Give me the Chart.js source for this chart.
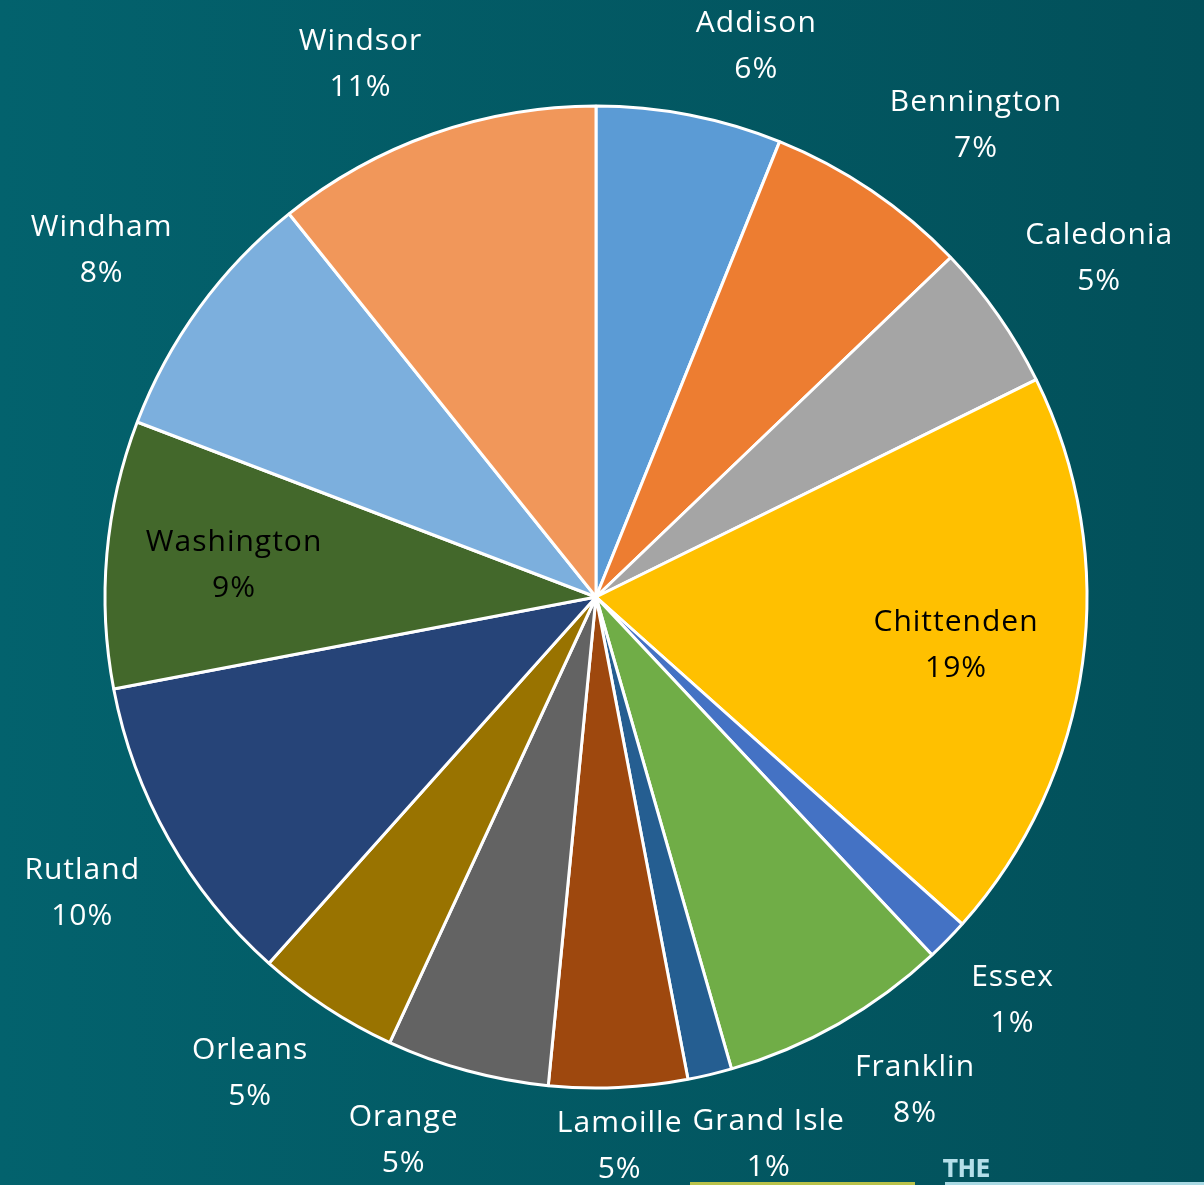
<!DOCTYPE html>
<html>
<head>
<meta charset="utf-8">
<script src="https://cdn.jsdelivr.net/npm/chart.js@4.4.1/dist/chart.umd.min.js"></script>
<style>
  html, body { margin: 0; padding: 0; overflow: hidden; background: #02595f; }
  #wrap { width: 1204px; height: 1185px; }
</style>
</head>
<body>
<div id="wrap"><canvas id="c" width="1204" height="1185"></canvas></div>
<script>
// ---- data ----
const counties = ['Addison', 'Bennington', 'Caledonia', 'Chittenden', 'Essex', 'Franklin',
  'Grand Isle', 'Lamoille', 'Orange', 'Orleans', 'Rutland', 'Washington', 'Windham', 'Windsor'];
const shares = [6.1, 6.75, 4.85, 18.9, 1.4, 7.55, 1.45, 4.55, 5.35, 4.7, 10.4, 8.8, 8.45, 10.75];
const sliceColors = ['#5B9BD5', '#ED7D31', '#A5A5A5', '#FFC000', '#4472C4', '#70AD47',
  '#255E91', '#9E480E', '#636363', '#997300', '#264478', '#43682B', '#7CAFDD', '#F1975A'];
const insideLabels = ['Chittenden', 'Washington'];

const FONT = '30px "Open Sans", Lato, sans-serif';
const LINE = 46;
const BOX_H = 76;

const bgPlugin = {
  id: 'bg',
  beforeDraw(chart) {
    const ctx = chart.ctx;
    const g = ctx.createLinearGradient(0, 0, chart.width, 0);
    g.addColorStop(0, '#03626d');
    g.addColorStop(1, '#02505a');
    ctx.save();
    ctx.fillStyle = g;
    ctx.fillRect(0, 0, chart.width, chart.height);
    ctx.restore();
  },
  afterDraw(chart) {
    const ctx = chart.ctx;
    ctx.save();
    ctx.fillStyle = '#b9c24a';
    ctx.fillRect(690, 1182, 225, 3);
    ctx.fillStyle = '#a9d9e3';
    ctx.fillRect(945, 1182, 259, 3);
    ctx.font = 'bold 24px "DejaVu Sans Condensed", "Liberation Sans Narrow", sans-serif';
    ctx.fillStyle = '#b4dfe9';
    ctx.textAlign = 'left';
    ctx.textBaseline = 'alphabetic';
    ctx.fillText('THE', 943, 1177);
    ctx.restore();
  }
};

function overlaps(a, b) {
  return a.x - a.w / 2 < b.x + b.w / 2 && b.x - b.w / 2 < a.x + a.w / 2 &&
         a.y - BOX_H / 2 < b.y + BOX_H / 2 && b.y - BOX_H / 2 < a.y + BOX_H / 2;
}

const labelPlugin = {
  id: 'sliceLabels',
  afterDatasetsDraw(chart) {
    const ctx = chart.ctx;
    const meta = chart.getDatasetMeta(0);
    const total = shares.reduce((a, b) => a + b, 0);
    ctx.save();
    ctx.font = FONT;
    ctx.letterSpacing = '1px';
    ctx.textAlign = 'center';
    ctx.textBaseline = 'middle';
    const boxes = meta.data.map((arc, i) => {
      const p = arc.getProps(['x', 'y', 'startAngle', 'endAngle', 'outerRadius'], true);
      const mid = (p.startAngle + p.endAngle) / 2;
      const ux = Math.cos(mid), uy = Math.sin(mid);
      const name = counties[i];
      const pct = Math.round(shares[i] / total * 100) + '%';
      const w = Math.max(ctx.measureText(name).width, ctx.measureText(pct).width);
      const inside = insideLabels.includes(name);
      let x, y;
      if (inside) {
        const r = p.outerRadius * 0.74;
        x = p.x + ux * r; y = p.y + uy * r;
      } else {
        // the label box corner nearest the pie sits just outside the slice's mid-angle
        const r = p.outerRadius + 33;
        x = p.x + ux * r + Math.sign(ux) * w / 2;
        y = p.y + uy * r + Math.sign(uy) * BOX_H / 2;
        y = Math.min(Math.max(y, BOX_H / 2 + 8), chart.height - BOX_H / 2 - 1);
      }
      return { name, pct, x, y, w, inside, uy };
    });
    // resolve collisions: the later label is pushed along the ring
    for (let pass = 0; pass < 3; pass++) {
      for (let i = 0; i < boxes.length - 1; i++) {
        const a = boxes[i], b = boxes[i + 1];
        if (a.inside || b.inside || !overlaps(a, b)) continue;
        if (b.uy > 0) {
          b.x = a.x - a.w / 2 - 10 - b.w / 2;
        } else {
          b.x = a.x + a.w / 2 + 10 + b.w / 2;
        }
      }
    }
    boxes.forEach(b => {
      ctx.fillStyle = b.inside ? '#000000' : '#ffffff';
      ctx.fillText(b.name, b.x, b.y - LINE / 2);
      ctx.fillText(b.pct, b.x, b.y + LINE / 2);
    });
    ctx.restore();
  }
};

new Chart(document.getElementById('c'), {
  type: 'pie',
  data: {
    labels: counties,
    datasets: [{
      data: shares,
      backgroundColor: sliceColors,
      borderColor: '#ffffff',
      borderWidth: 3
    }]
  },
  options: {
    responsive: false,
    animation: false,
    radius: 491,
    layout: { padding: { left: 0, right: 12, top: 9, bottom: 0 } },
    plugins: { legend: { display: false }, tooltip: { enabled: false } }
  },
  plugins: [bgPlugin, labelPlugin]
});
</script>
</body>
</html>
